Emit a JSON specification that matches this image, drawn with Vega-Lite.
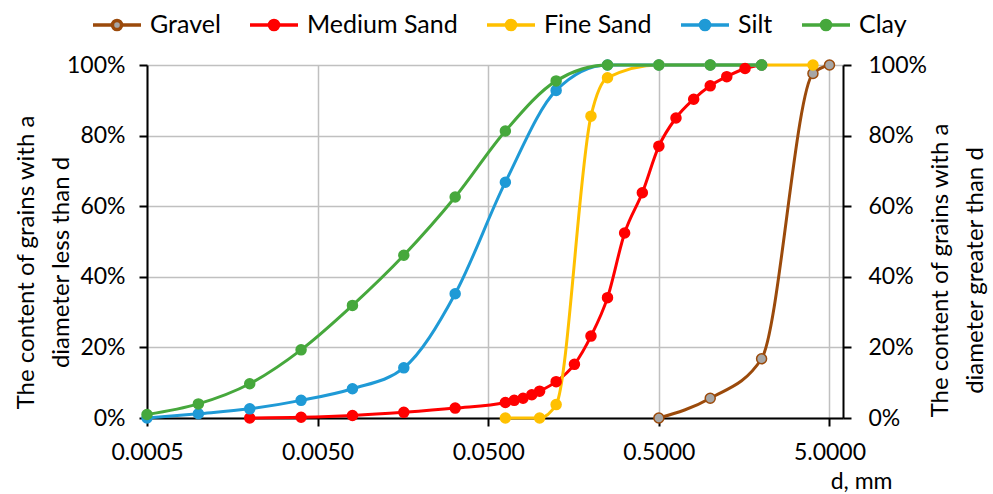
{
  "$schema": "https://vega.github.io/schema/vega-lite/v6.json",
  "width": 696,
  "height": 353,
  "autosize": {"type": "none"},
  "padding": {"left": 147, "top": 65, "right": 150, "bottom": 76},
  "background": "white",
  "config": {
    "font": "Lato",
    "view": {"stroke": null},
    "axis": {
      "domainColor": "black",
      "domainWidth": 2,
      "tickColor": "black",
      "tickWidth": 2,
      "tickSize": 8,
      "labelColor": "black",
      "labelFontSize": 23,
      "titleColor": "black",
      "titleFontSize": 24,
      "titleFontWeight": "normal",
      "gridColor": "#c0c0c0",
      "gridWidth": 1.5
    }
  },
  "data": {
    "values": [
      {"fraction": "Gravel", "d": 0.5, "content": 0},
      {"fraction": "Gravel", "d": 1, "content": 5.6},
      {"fraction": "Gravel", "d": 2, "content": 16.8},
      {"fraction": "Gravel", "d": 4, "content": 97.6},
      {"fraction": "Gravel", "d": 5, "content": 100},

      {"fraction": "Medium Sand", "d": 0.002, "content": 0},
      {"fraction": "Medium Sand", "d": 0.004, "content": 0.2},
      {"fraction": "Medium Sand", "d": 0.008, "content": 0.7},
      {"fraction": "Medium Sand", "d": 0.016, "content": 1.6},
      {"fraction": "Medium Sand", "d": 0.032, "content": 2.8},
      {"fraction": "Medium Sand", "d": 0.063, "content": 4.4},
      {"fraction": "Medium Sand", "d": 0.071, "content": 5.0},
      {"fraction": "Medium Sand", "d": 0.08, "content": 5.6},
      {"fraction": "Medium Sand", "d": 0.09, "content": 6.6},
      {"fraction": "Medium Sand", "d": 0.1, "content": 7.6},
      {"fraction": "Medium Sand", "d": 0.125, "content": 10.3},
      {"fraction": "Medium Sand", "d": 0.16, "content": 15.2},
      {"fraction": "Medium Sand", "d": 0.2, "content": 23.2},
      {"fraction": "Medium Sand", "d": 0.25, "content": 34.1},
      {"fraction": "Medium Sand", "d": 0.315, "content": 52.4},
      {"fraction": "Medium Sand", "d": 0.4, "content": 63.8},
      {"fraction": "Medium Sand", "d": 0.5, "content": 77.0},
      {"fraction": "Medium Sand", "d": 0.63, "content": 85.0},
      {"fraction": "Medium Sand", "d": 0.8, "content": 90.3},
      {"fraction": "Medium Sand", "d": 1, "content": 94.1},
      {"fraction": "Medium Sand", "d": 1.25, "content": 96.7},
      {"fraction": "Medium Sand", "d": 1.6, "content": 99.0},
      {"fraction": "Medium Sand", "d": 2, "content": 100},

      {"fraction": "Fine Sand", "d": 0.063, "content": 0},
      {"fraction": "Fine Sand", "d": 0.1, "content": 0},
      {"fraction": "Fine Sand", "d": 0.125, "content": 3.8},
      {"fraction": "Fine Sand", "d": 0.2, "content": 85.5},
      {"fraction": "Fine Sand", "d": 0.25, "content": 96.4},
      {"fraction": "Fine Sand", "d": 0.5, "content": 100},
      {"fraction": "Fine Sand", "d": 1, "content": 100},
      {"fraction": "Fine Sand", "d": 2, "content": 100},
      {"fraction": "Fine Sand", "d": 4, "content": 100},

      {"fraction": "Silt", "d": 0.0005, "content": 0},
      {"fraction": "Silt", "d": 0.001, "content": 1.2},
      {"fraction": "Silt", "d": 0.002, "content": 2.6},
      {"fraction": "Silt", "d": 0.004, "content": 5.0},
      {"fraction": "Silt", "d": 0.008, "content": 8.3},
      {"fraction": "Silt", "d": 0.016, "content": 14.2},
      {"fraction": "Silt", "d": 0.032, "content": 35.2},
      {"fraction": "Silt", "d": 0.063, "content": 66.8},
      {"fraction": "Silt", "d": 0.125, "content": 92.8},
      {"fraction": "Silt", "d": 0.25, "content": 100},
      {"fraction": "Silt", "d": 0.5, "content": 100},
      {"fraction": "Silt", "d": 1, "content": 100},
      {"fraction": "Silt", "d": 2, "content": 100},

      {"fraction": "Clay", "d": 0.0005, "content": 1.0},
      {"fraction": "Clay", "d": 0.001, "content": 4.0},
      {"fraction": "Clay", "d": 0.002, "content": 9.7},
      {"fraction": "Clay", "d": 0.004, "content": 19.3},
      {"fraction": "Clay", "d": 0.008, "content": 31.9},
      {"fraction": "Clay", "d": 0.016, "content": 46.1},
      {"fraction": "Clay", "d": 0.032, "content": 62.6},
      {"fraction": "Clay", "d": 0.063, "content": 81.3},
      {"fraction": "Clay", "d": 0.125, "content": 95.5},
      {"fraction": "Clay", "d": 0.25, "content": 100},
      {"fraction": "Clay", "d": 0.5, "content": 100},
      {"fraction": "Clay", "d": 1, "content": 100},
      {"fraction": "Clay", "d": 2, "content": 100}
    ]
  },
  "encoding": {
    "x": {
      "field": "d",
      "type": "quantitative",
      "scale": {"type": "log", "domain": [0.0005, 6], "nice": false},
      "axis": {
        "values": [0.0005, 0.005, 0.05, 0.5, 5],
        "format": ".4f",
        "labelPadding": 15,
        "labelFlush": false,
        "labelOverlap": false,
        "title": "d, mm",
        "titleFontSize": 23,
        "titleAnchor": null,
        "titleAlign": "right",
        "titleBaseline": "alphabetic",
        "titleX": 745,
        "titleY": 70,
        "grid": true
      }
    }
  },
  "layer": [
    {
      "mark": {"type": "line", "interpolate": "monotone", "strokeWidth": 3},
      "encoding": {
        "y": {
          "field": "content",
          "type": "quantitative",
          "scale": {"domain": [0, 100], "nice": false},
          "axis": {
            "orient": "left",
            "values": [0, 20, 40, 60, 80, 100],
            "labelExpr": "datum.value + '%'",
            "labelPadding": 14,
            "grid": true,
            "title": ["The content of grains with a", "diameter less than d"],
            "titleAngle": 270,
            "titleAlign": "center",
            "titleBaseline": "alphabetic",
            "titleLineHeight": 35,
            "titleX": -114,
            "titleY": 197
          }
        },
        "stroke": {
          "field": "fraction",
          "type": "nominal",
          "scale": {
            "domain": ["Gravel", "Medium Sand", "Fine Sand", "Silt", "Clay"],
            "range": ["#9B4A0B", "#FF0000", "#FFC000", "#1F9AD6", "#46A83C"]
          },
          "legend": {
            "orient": "none",
            "legendX": -56,
            "legendY": -66,
            "direction": "horizontal",
            "title": null,
            "symbolType": "M-1,0H-0.19M0.19,0H1M0.19,0A0.19,0.19 0 1 1 -0.19,0A0.19,0.19 0 1 1 0.19,0Z",
            "symbolSize": 2304,
            "symbolStrokeWidth": 3.5,
            "labelFontSize": 25,
            "labelColor": "black",
            "labelOffset": 7,
            "columnPadding": 22
          }
        }
      }
    },
    {
      "mark": {"type": "point", "filled": true, "size": 100, "strokeWidth": 1.5, "opacity": 1},
      "encoding": {
        "y": {
          "field": "content",
          "type": "quantitative",
          "scale": {"domain": [0, 100], "nice": false},
          "axis": {
            "orient": "right",
            "values": [0, 20, 40, 60, 80, 100],
            "labelExpr": "datum.value + '%'",
            "labelPadding": 17,
            "grid": false,
            "title": ["The content of grains with a", "diameter greater than d"],
            "titleAngle": 270,
            "titleAlign": "center",
            "titleBaseline": "alphabetic",
            "titleLineHeight": 35,
            "titleX": 104,
            "titleY": 205
          }
        },
        "stroke": {"field": "fraction", "type": "nominal"},
        "fill": {
          "field": "fraction",
          "type": "nominal",
          "scale": {
            "domain": ["Gravel", "Medium Sand", "Fine Sand", "Silt", "Clay"],
            "range": ["#A6A6A6", "#FF0000", "#FFC000", "#1F9AD6", "#46A83C"]
          },
          "legend": {
            "orient": "none",
            "legendX": -56,
            "legendY": -66,
            "direction": "horizontal",
            "title": null,
            "symbolType": "M-1,0H-0.19M0.19,0H1M0.19,0A0.19,0.19 0 1 1 -0.19,0A0.19,0.19 0 1 1 0.19,0Z",
            "symbolSize": 2304,
            "symbolStrokeWidth": 3.5,
            "labelFontSize": 25,
            "labelColor": "black",
            "labelOffset": 7,
            "columnPadding": 22
          }
        }
      }
    }
  ],
  "resolve": {"axis": {"y": "independent"}}
}
